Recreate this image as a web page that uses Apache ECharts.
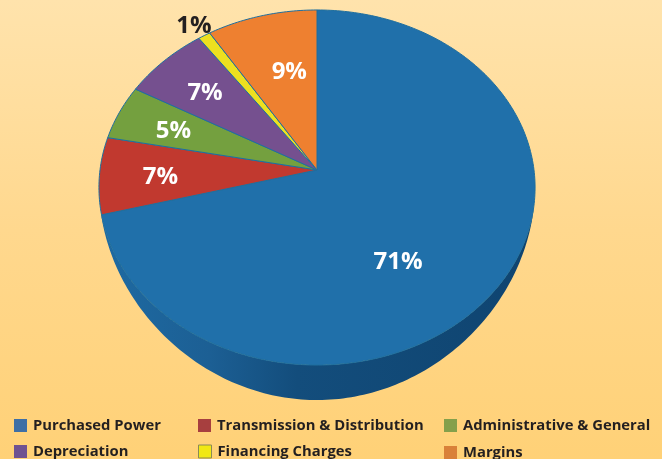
<!DOCTYPE html>
<html>
<head>
<meta charset="utf-8">
<style>
  html, body { margin: 0; padding: 0; background: #ffd780; }
  #chart { width: 662px; height: 459px; }
</style>
<script src="https://cdn.jsdelivr.net/npm/echarts@6/dist/echarts.min.js"></script>
</head>
<body>
<div id="chart"></div>
<script>
const categories = ['Purchased Power', 'Transmission & Distribution', 'Administrative & General', 'Depreciation', 'Financing Charges', 'Margins']
const shares = [71, 7, 5, 7, 1, 9]
const sliceColors = ['#2070aa', '#c1392f', '#74a03f', '#75508f', '#ede020', '#ee8030']
const swatchColors = ['#3e6fa5', '#a73f3f', '#84a04b', '#6f5291', '#f1e814', '#d98139']

// tilted disc: the circle goes through a small perspective map so the apex sits above the ellipse centre
const apexX = 317
const apexY = 170
const scaleX = 217
const scaleY = 175.8
const tilt = -0.0986
const depth = 35

const project = (turn, r) => {
    const a = turn * Math.PI * 2
    const x = Math.sin(a) * r
    const y = -Math.cos(a) * r
    const d = 1 + tilt * y
    return [apexX + scaleX * x / d, apexY + scaleY * y / d]
}

const arcPoints = (from, to) => {
    const pts = []
    const n = Math.max(2, Math.ceil((to - from) * 360))
    for (let i = 0; i <= n; i++) {
        pts.push(project(from + (to - from) * i / n, 1))
    }
    return pts
}

// side wall of the disc, only the part that faces the viewer
const sideWall = (from, to) => {
    const start = Math.max(from, 0.25)
    const end = Math.min(to, 0.75)
    if (end <= start) return null
    const rim = arcPoints(start, end)
    const lower = rim.map((p) => {
        const c = Math.max(0, Math.cos((p[0] - apexX) / scaleX * Math.PI / 2))
        const yy = p[1] + depth * Math.pow(c, 0.6)
        return [p[0], yy]
    })
    return rim.concat(lower.reverse())
}

let running = 0
const spans = shares.map((v) => {
    const span = [running / 100, (running + v) / 100, v]
    running += v
    return span
})
const labelRadius = [0.6, 0.72, 0.72, 0.72, 1.1, 0.62]
const labelTurnShift = [0.044, 0, 0, 0, 0, 0.01]

const makeSeries = (name, i) => ({
    name: name,
    type: 'custom',
    coordinateSystem: 'none',
    itemStyle: { color: swatchColors[i] },
    data: [spans[i]],
    z: i === 0 ? 1 : 2,
    renderItem: (params, api) => {
        const from = api.value(0)
        const to = api.value(1)
        const children = []
        const wall = i === 0 ? sideWall(from, to) : null
        if (wall) {
            children.push({
                type: 'polygon',
                shape: { points: wall },
                style: {
                    fill: new echarts.graphic.LinearGradient(0, 0, 1, 0, [
                        { offset: 0, color: '#1e6aa2' },
                        { offset: 0.25, color: '#1c5f94' },
                        { offset: 0.45, color: '#134d7c' },
                        { offset: 1, color: '#0f4470' },
                    ]),
                },
            })
        }
        children.push({
            type: 'polygon',
            shape: { points: [[apexX, apexY]].concat(arcPoints(from, to)) },
            style: { fill: sliceColors[i], stroke: '#1f6f9f', lineWidth: 1 },
        })
        const mid = project((from + to) / 2 + labelTurnShift[i], labelRadius[i])
        children.push({
            type: 'text',
            z2: 10,
            style: {
                text: api.value(2) + '%',
                x: mid[0],
                y: mid[1] + 3,
                align: 'center',
                verticalAlign: 'middle',
                fill: i === 4 ? '#231f20' : '#ffffff',
                font: 'bold 24px "Open Sans"',
            },
        })
        return { type: 'group', children: children }
    },
})

const makeLegend = (i, left, top) => ({
    data: [categories[i]],
    left: left,
    top: top,
    padding: 0,
    itemGap: 0,
    itemWidth: 13,
    itemHeight: 13,
    icon: 'rect',
    selectedMode: false,
    itemStyle: i === 4 ? { borderColor: '#8b8b55', borderWidth: 1 } : { borderWidth: 0 },
    textStyle: {
        color: '#231f20',
        fontFamily: 'Open Sans',
        fontWeight: 'bold',
        fontSize: 14.8,
        padding: [0, 0, 0, 1],
    },
})

const chart = echarts.init(document.getElementById('chart'))
chart.setOption({
    animation: false,
    backgroundColor: new echarts.graphic.LinearGradient(0, 0, 0, 1, [
        { offset: 0, color: '#ffe3ac' },
        { offset: 0.5, color: '#ffd88e' },
        { offset: 1, color: '#ffd177' },
    ]),
    legend: [
        makeLegend(0, 14, 418),
        makeLegend(1, 198, 418),
        makeLegend(2, 444, 418),
        makeLegend(3, 14, 444),
        makeLegend(4, 198, 444),
        makeLegend(5, 444, 445),
    ],
    series: categories.map(makeSeries),
})
</script>
</body>
</html>
